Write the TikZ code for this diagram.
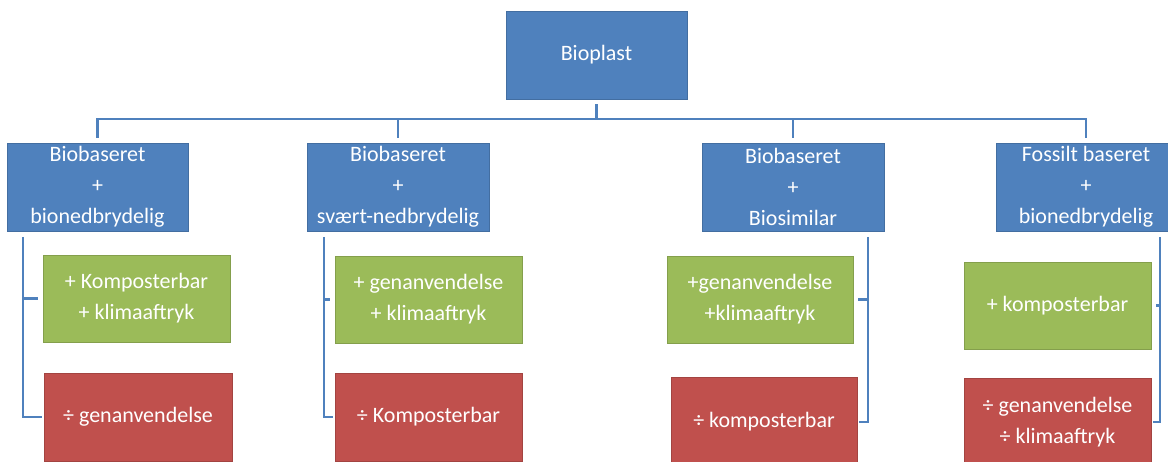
\documentclass[tikz,border=0pt]{standalone}
\usepackage{fontspec}
\setmainfont{Carlito}
\definecolor{bblue}{HTML}{4F81BD}
\definecolor{bgreen}{HTML}{9BBB59}
\definecolor{bred}{HTML}{C0504D}
\begin{document}
\begin{tikzpicture}[x=1pt,y=-1pt,
  box/.style={rectangle, inner sep=0pt, align=center, text=white,
    font=\fontsize{22}{31}\selectfont, line width=0.8pt},
  bluebox/.style={box, fill=bblue, draw=bblue!85!black},
  greenbox/.style={box, fill=bgreen, draw=bgreen!85!black},
  redbox/.style={box, fill=bred, draw=bred!85!black},
  conn/.style={draw=bblue, line width=2.5pt}]
\useasboundingbox (0,0) rectangle (1168,462);
% root
\node[bluebox, minimum width=181pt, minimum height=88pt] (root) at (596.5,55) {Bioplast};
% level 2
\node[bluebox, minimum width=181pt, minimum height=88pt] (b1) at (97.5,187) {Biobaseret\\+\\bionedbrydelig};
\node[bluebox, minimum width=182pt, minimum height=88pt] (b2) at (398,187) {Biobaseret\\+\\svært-nedbrydelig};
\node[bluebox, minimum width=182pt, minimum height=88pt] (b3) at (793,187) {Biobaseret\\+\\Biosimilar};
\node[bluebox, minimum width=180pt, minimum height=88pt] (b4) at (1086,187) {Fossilt baseret\\+\\bionedbrydelig};
% green
\node[greenbox, minimum width=187pt, minimum height=87pt] (g1) at (136.5,298.5) {+ Komposterbar\\+ klimaaftryk};
\node[greenbox, minimum width=187pt, minimum height=87pt] (g2) at (428.5,299.5) {+ genanvendelse\\+ klimaaftryk};
\node[greenbox, minimum width=186pt, minimum height=87pt] (g3) at (760,299.5) {+genanvendelse\\+klimaaftryk};
\node[greenbox, minimum width=187pt, minimum height=87pt] (g4) at (1057.5,305.5) {+ komposterbar};
% red
\node[redbox, minimum width=188pt, minimum height=88pt] (r1) at (138,417) {÷ genanvendelse};
\node[redbox, minimum width=187pt, minimum height=88pt] (r2) at (428.5,417) {÷ Komposterbar};
\node[redbox, minimum width=186pt, minimum height=90pt] (r3) at (764,422) {÷ komposterbar};
\node[redbox, minimum width=187pt, minimum height=88pt] (r4) at (1057.5,422) {÷ genanvendelse\\÷ klimaaftryk};
% tree connectors
\coordinate (bar) at (596.5,119);
\draw[conn] ([yshift=-5pt]root.south) -- (bar);
\draw[conn] (bar) -| ([yshift=5pt]b1.north);
\draw[conn] (bar) -| ([yshift=5pt]b2.north);
\draw[conn] (bar) -| ([yshift=5pt]b3.north);
\draw[conn] (bar) -| ([yshift=5pt]b4.north);
% brackets
\coordinate (k1) at (23,237);
\coordinate (k2) at (324,237);
\coordinate (k3) at (868,237);
\coordinate (k4) at (1160,237);
\draw[conn] (k1) |- ([xshift=-2pt]r1.west);
\draw[conn] (k1 |- g1.west) -- ([xshift=-5pt]g1.west);
\draw[conn] (k2) |- ([xshift=-2pt]r2.west);
\draw[conn] (k2 |- g2.west) -- ([xshift=-5pt]g2.west);
\draw[conn] (k3) |- ([xshift=2pt]r3.east);
\draw[conn] (k3 |- g3.east) -- ([xshift=5pt]g3.east);
\draw[conn] (k4) |- ([xshift=2pt]r4.east);
\draw[conn] (k4 |- g4.east) -- ([xshift=5pt]g4.east);
\end{tikzpicture}
\end{document}
